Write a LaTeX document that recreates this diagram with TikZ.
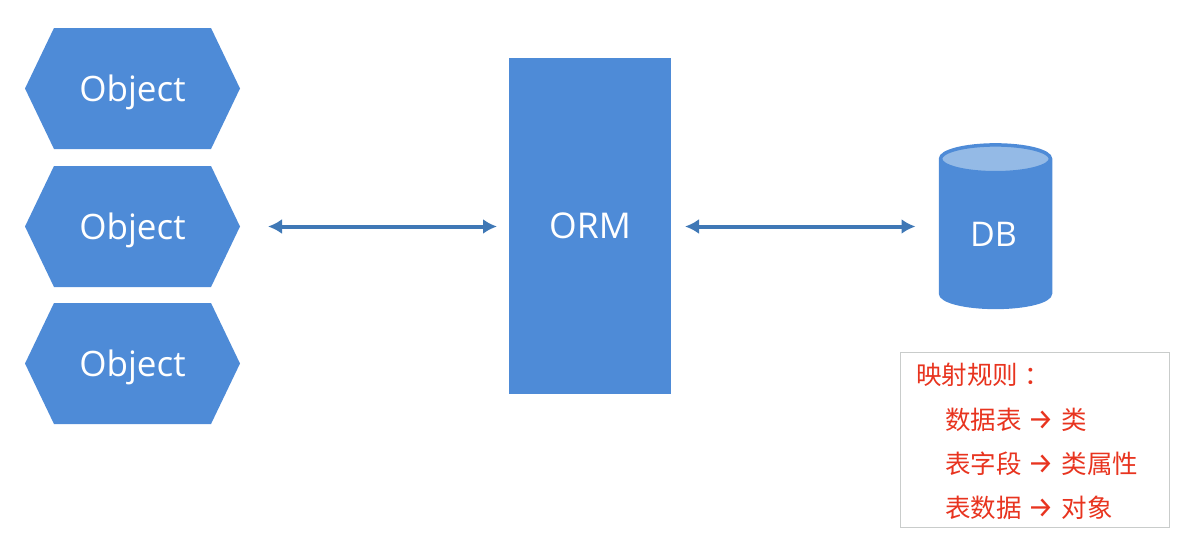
\documentclass[tikz,border=0pt]{standalone}
\usepackage{fontspec}
\setmainfont{Open Sans}
\newfontfamily\cjk{Noto Sans CJK SC}
\newfontfamily\arrowfont{Fira Sans}
\usetikzlibrary{positioning,arrows.meta,shapes.geometric,shapes.symbols}
\definecolor{ShapeBlue}{HTML}{4E8BD7}
\definecolor{TopBlue}{HTML}{94BAE6}
\definecolor{ArrowBlue}{HTML}{3F78B6}
\definecolor{RuleRed}{HTML}{E8341F}
\definecolor{FrameGray}{HTML}{C9CCCB}
\newcommand{\ruleto}{\hspace{6pt}{\arrowfont\fontsize{29}{44.3}\selectfont →}\hspace{8pt}}
\tikzset{
  objectbox/.style={
    signal,
    signal to=east and west,
    signal pointer angle=128.8,
    fill=ShapeBlue,
    text=white,
    minimum width=215pt,
    minimum height=121pt,
    inner sep=0pt,
    outer sep=0pt,
    text height=30.5pt,
    text depth=5.1pt,
    font=\fontsize{35}{40}\selectfont
  },
  biarrow/.style={
    {Latex[length=14pt,width=15pt]}-{Latex[length=14pt,width=15pt]},
    draw=ArrowBlue,
    line width=4pt,
    yshift=-0.5pt
  }
}
\begin{document}
\begin{tikzpicture}
  \useasboundingbox (0,0) rectangle (1195pt,-544pt);
  \node[objectbox] (object1) at (132.5pt,-88.5pt) {Object};
  \node[objectbox, below=17pt of object1] (object2) {Object};
  \node[objectbox, below=16pt of object2] (object3) {Object};
  \node[
    fill=ShapeBlue,
    text=white,
    minimum width=162pt,
    minimum height=336pt,
    outer sep=0pt,
    font=\fontsize{35.5}{40}\selectfont
  ] (orm) at (590pt,-226pt) {ORM};
  \node[
    cylinder,
    shape border rotate=90,
    aspect=0.65,
    cylinder uses custom fill,
    cylinder body fill=ShapeBlue,
    cylinder end fill=TopBlue,
    draw=ShapeBlue,
    line width=3.5pt,
    text=white,
    minimum width=110pt,
    minimum height=162.5pt,
    inner sep=0pt,
    outer sep=0pt,
    font=\fontsize{34}{40}\selectfont
  ] (db) at (995.5pt,-234pt) {\hspace*{-4pt}\raisebox{-4pt}{DB}};
  \draw[biarrow, shorten <=28pt, shorten >=12pt] (object2.east) -- (object2.east -| orm.west);
  \draw[biarrow, shorten <=14pt, shorten >=25pt] (object2.east -| orm.east) -- (object2.east -| db.west);
  \node[
    draw=FrameGray,
    line width=1pt,
    fill=white,
    text=RuleRed,
    minimum width=269pt,
    minimum height=175pt,
    inner xsep=16pt,
    inner ysep=0pt,
    text width=237pt,
    align=left,
    font=\cjk\fontsize{25.5}{44.3}\selectfont
  ] (rules) at (1034.5pt,-439.5pt) {
    \rule{0pt}{26pt}映射规则\hspace{6pt}：\\
    \hspace*{29pt}数据表\ruleto 类\\
    \hspace*{29pt}表字段\ruleto 类属性\\
    \hspace*{29pt}表数据\ruleto 对象
  };
\end{tikzpicture}
\end{document}
